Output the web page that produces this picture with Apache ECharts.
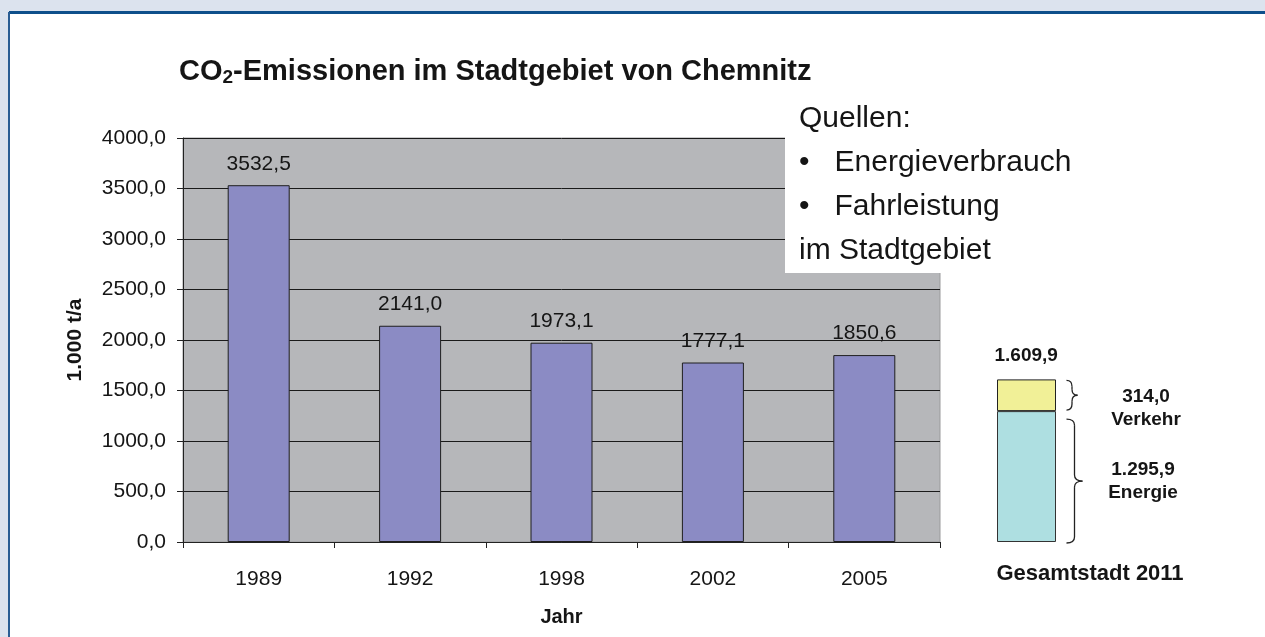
<!DOCTYPE html>
<html>
<head>
<meta charset="utf-8">
<script src="https://cdn.jsdelivr.net/npm/echarts@6/dist/echarts.min.js"></script>
<style>
html, body { margin: 0; padding: 0; background: #dce3ee; }
#chart { width: 1265px; height: 637px; }
</style>
</head>
<body>
<div id="chart"></div>
<script>
// Daten
var years = ["1989", "1992", "1998", "2002", "2005"];
var emissions = [3532.5, 2141.0, 1973.1, 1777.1, 1850.6];
var city2011 = ["Gesamtstadt 2011"];
var energie2011 = [1295.9];
var verkehr2011 = [314.0];
var quellenLines = ["Quellen:", "•   Energieverbrauch", "•   Fahrleistung", "im Stadtgebiet"];

var FONT = "'Liberation Sans', Arial, sans-serif";
var INK = "#151515";

// deutsche Zahlenformatierung
function de(v, sep){
	var s = v.toFixed(1).split(".");
	var i = s[0];
	if (sep) i = i.replace(/\B(?=(\d{3})+(?!\d))/g, ".");
	return i + "," + s[1];
}

var chart = echarts.init(document.getElementById("chart"));

var option = {
	backgroundColor: "#dce3ee",
	animation: false,
	title: {
		text: "CO{sub|2}-Emissionen im Stadtgebiet von Chemnitz",
		left: 174,
		top: 52,
		textStyle: {
			fontFamily: FONT, fontSize: 29, fontWeight: "bold", color: INK,
			rich: {
				sub: {fontFamily: FONT, fontSize: 19, fontWeight: "bold", color: INK,
					verticalAlign: "bottom", padding: [11, 0, 0, 0]}
			}
		}
	},
	grid: [{
		left: 183, right: 325, top: 138, bottom: 95,
		show: true, backgroundColor: "#b6b7ba", borderColor: "#9a9a9c", borderWidth: 1
	}, {
		left: 997, width: 59, top: 138, bottom: 95
	}],
	xAxis: [{
		gridIndex: 0,
		type: "category",
		data: years,
		name: "Jahr",
		nameLocation: "middle",
		nameGap: 65,
		nameTextStyle: {fontFamily: FONT, fontSize: 20, fontWeight: "bold", color: INK},
		axisLine: {lineStyle: {color: "#222", width: 1}},
		axisTick: {show: true, length: 6, lineStyle: {color: "#222"}},
		axisLabel: {fontFamily: FONT, fontSize: 21, color: INK, margin: 27}
	}, {
		gridIndex: 1,
		type: "category",
		data: city2011,
		show: false
	}],
	yAxis: [{
		gridIndex: 0,
		type: "value",
		min: 0, max: 4000, interval: 500,
		name: "1.000 t/a",
		nameLocation: "middle",
		nameGap: 97,
		nameTextStyle: {fontFamily: FONT, fontSize: 21, fontWeight: "bold", color: INK},
		axisLine: {show: true, lineStyle: {color: "#222"}},
		axisTick: {show: true, length: 6, lineStyle: {color: "#222"}},
		axisLabel: {fontFamily: FONT, fontSize: 21, color: INK, margin: 17,
			formatter: function(v){ return de(v); }},
		splitLine: {lineStyle: {color: "#1a1a1a", width: 1}}
	}, {
		gridIndex: 1,
		type: "value",
		min: 0, max: 4000,
		show: false
	}],
	series: [{
		type: "bar",
		xAxisIndex: 0, yAxisIndex: 0,
		data: emissions,
		barWidth: 62,
		itemStyle: {color: "#8b8bc4", borderColor: "#1f1f1f", borderWidth: 1},
		label: {show: true, position: "top", distance: 11,
			fontFamily: FONT, fontSize: 21, color: INK,
			formatter: function(p){ return de(p.value); }}
	}, {
		name: "Energie",
		type: "bar",
		stack: "2011",
		xAxisIndex: 1, yAxisIndex: 1,
		data: energie2011,
		barWidth: "100%",
		itemStyle: {color: "#aedfe1", borderColor: "#333", borderWidth: 1},
		label: {show: true, position: [146, 70], align: "center", verticalAlign: "middle",
			fontFamily: FONT, fontSize: 19, fontWeight: "bold", color: INK, lineHeight: 23,
			formatter: function(p){ return de(p.value, true) + "\nEnergie"; }}
	}, {
		name: "Verkehr",
		type: "bar",
		stack: "2011",
		xAxisIndex: 1, yAxisIndex: 1,
		data: verkehr2011,
		barWidth: "100%",
		itemStyle: {color: "#f1f097", borderColor: "#222", borderWidth: 1},
		label: {show: true, position: [149, 29], align: "center", verticalAlign: "middle",
			fontFamily: FONT, fontSize: 19, fontWeight: "bold", color: INK, lineHeight: 23,
			formatter: function(p){ return de(p.value) + "\nVerkehr"; }}
	}]
};
chart.setOption(option);

// geschweifte Klammer aus Kurvenstuecken
function brace(x, y1, y2, w){
	var ym = (y1 + y2) / 2, h = w / 2, r = Math.min(6, (y2 - y1) / 4);
	var st = {stroke: "#222", lineWidth: 1.3, fill: null};
	function q(ax, ay, cx, cy, bx, by){
		return {type: "bezierCurve", z: 20, silent: true,
			shape: {x1: ax, y1: ay, cpx1: cx, cpy1: cy, x2: bx, y2: by}, style: st};
	}
	function l(ax, ay, bx, by){
		return {type: "line", z: 20, silent: true,
			shape: {x1: ax, y1: ay, x2: bx, y2: by}, style: st};
	}
	return {type: "group", children: [
		q(x, y1, x + h, y1, x + h, y1 + r),
		l(x + h, y1 + r, x + h, ym - r),
		q(x + h, ym - r, x + h, ym, x + w, ym),
		q(x + w, ym, x + h, ym, x + h, ym + r),
		l(x + h, ym + r, x + h, y2 - r),
		q(x + h, y2 - r, x + h, y2, x, y2)
	]};
}

var total = energie2011[0] + verkehr2011[0];
var pBase = chart.convertToPixel({xAxisIndex: 1, yAxisIndex: 1}, [0, 0]);
var pMid = chart.convertToPixel({xAxisIndex: 1, yAxisIndex: 1}, [0, energie2011[0]]);
var pTop = chart.convertToPixel({xAxisIndex: 1, yAxisIndex: 1}, [0, total]);
var bx = pBase[0] + 30 + 10;

chart.setOption({
	graphic: [
		// Rahmen
		{type: "rect", z: -10, silent: true, shape: {x: 9, y: 12, width: 1270, height: 640},
			style: {fill: "#ffffff"}},
		{type: "line", z: -9, shape: {x1: 9, y1: 12.5, x2: 1265, y2: 12.5},
			style: {stroke: "#0e4f8b", lineWidth: 3}},
		{type: "line", z: -9, shape: {x1: 9, y1: 12, x2: 9, y2: 637},
			style: {stroke: "#2a5d93", lineWidth: 2}},
		// Textkasten Quellen
		{type: "rect", z: 50, shape: {x: 785, y: 92, width: 320, height: 181},
			style: {fill: "#ffffff"}},
		{type: "text", z: 51, x: 799, y: 97,
			style: {text: quellenLines.join("\n"), fontFamily: FONT, fontSize: 30, lineHeight: 44,
				fill: INK}},
		// Gesamtstadt 2011
		{type: "text", z: 20, x: pBase[0] - 32, y: pTop[1] - 33,
			style: {text: de(total, true), fontFamily: FONT, fontSize: 19, fontWeight: "bold", fill: INK}},
		{type: "text", z: 20, x: pBase[0] - 30, y: pBase[1] + 21,
			style: {text: city2011[0], fontFamily: FONT, fontSize: 22, fontWeight: "bold", fill: INK}},
		brace(bx, pTop[1] + 1, pMid[1] - 1, 11),
		brace(bx, pMid[1] + 8, pBase[1] + 1, 16)
	]
});
</script>
</body>
</html>
